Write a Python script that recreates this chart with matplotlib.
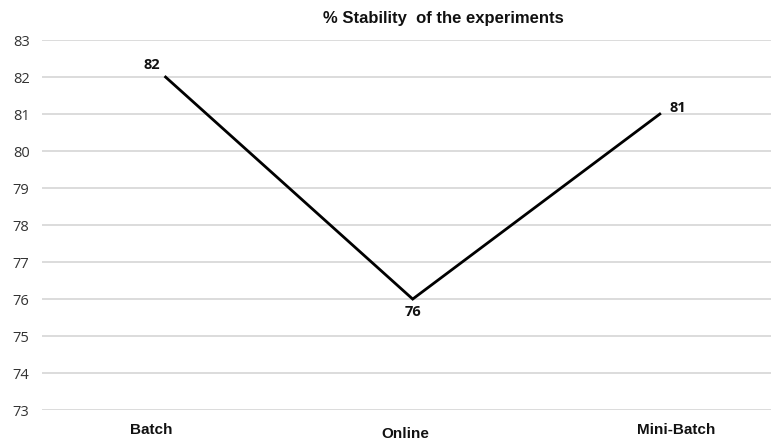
import matplotlib.pyplot as plt
from matplotlib.transforms import ScaledTranslation

categories = ["Batch", "Online", "Mini-Batch"]
stability = [82, 76, 81]
y_ticks = list(range(73, 84))

fig = plt.figure(figsize=(7.71, 4.40), dpi=100)
ax = fig.add_axes([0.0545, 0.068, 0.9455, 0.841])

x = list(range(len(categories)))
ax.plot(x, stability, color="black", linewidth=2.0, solid_joinstyle="miter", zorder=3)

# value labels next to each point
offsets = [(-10, 9), (0, -9), (13, 4.5)]
for xi, v, (dx, dy) in zip(x, stability, offsets):
    ax.annotate(f"{v}", (xi, v), xytext=(dx, dy), textcoords="offset points",
                ha="center", va="center", fontsize=10.5, fontweight="bold",
                family="Open Sans", color="#111111")

ax.set_xlim(-0.5, 2.45)
ax.set_ylim(73, 83)
ax.set_yticks(y_ticks)
ax.set_yticklabels([str(t) for t in y_ticks], family="Open Sans", fontsize=10.5, color="#333333")
ax.set_xticks(x)
ax.set_xticklabels(categories, family="Liberation Sans", fontsize=11,
                   fontweight="bold", color="#111111")
ax.tick_params(axis="both", length=0)
ax.tick_params(axis="y", pad=9)
ax.tick_params(axis="x", pad=9)

# category labels are nudged sideways / down a little
shifts = [(-10, 0), (-5, -3), (12, 0)]
for lab, (dx, dy) in zip(ax.get_xticklabels(), shifts):
    lab.set_transform(lab.get_transform() +
                      ScaledTranslation(dx / 72, dy / 72, fig.dpi_scale_trans))

ax.grid(axis="y", color="#d9d9d9", linewidth=1.3)
ax.set_axisbelow(True)
for s in ax.spines.values():
    s.set_visible(False)

fig.text(0.575, 0.958, "% Stability  of the experiments", ha="center", va="center",
         family="Liberation Sans", fontsize=12, fontweight="bold", color="#111111")

fig.savefig("out.png", dpi=100)
